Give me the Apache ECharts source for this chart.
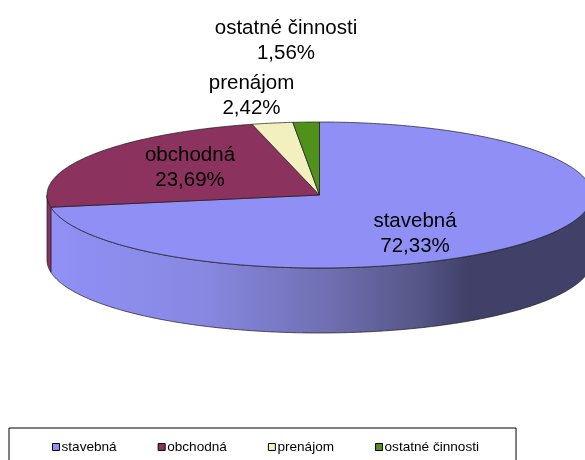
<!DOCTYPE html>
<html><head><meta charset="utf-8">
<style>html,body{margin:0;padding:0;background:#fff;overflow:hidden}#c{width:585px;height:460px}</style>
<script src="https://cdn.jsdelivr.net/npm/echarts@6/dist/echarts.min.js"></script>
</head><body><div id="c"></div>
<script>
const categories = ['stavebná', 'obchodná', 'prenájom', 'ostatné činnosti'];
const shares = [72.33, 23.69, 2.42, 1.56];
const colors = ['#8F8FF5', '#8C325F', '#F3F0C0', '#50911C'];
const labelCentres = [[415, 234], [190, 168], [251.5, 96], [286, 41]];
const pie = { cx: 319.5, cy: 195, rx: 272.5, ry: 73, depth: 65 };
const total = shares.reduce((a, b) => a + b, 0);
const starts = []; shares.reduce((acc, v, i) => (starts[i] = acc, acc + v), 0);
const toAngle = v => v / total * Math.PI * 2;
const pt = (a, dy) => [pie.cx + pie.rx * Math.sin(a), pie.cy - pie.ry * Math.cos(a) + (dy || 0)];
function arc(a0, a1, dy) {
  const n = Math.max(2, Math.ceil((a1 - a0) / 0.01)), out = [];
  for (let i = 0; i <= n; i++) out.push(pt(a0 + (a1 - a0) * i / n, dy));
  return out;
}
const wallFill = i => i !== 0 ? colors[i] : new echarts.graphic.LinearGradient(51, 0, 592, 0, [
  { offset: 0, color: '#9090F6' }, { offset: 0.28, color: '#8888E2' },
  { offset: 0.52, color: '#6E6EB0' }, { offset: 0.68, color: '#565688' },
  { offset: 0.77, color: '#404068' }, { offset: 1, color: '#404068' }], true);
const edge = { stroke: '#1a1a1a', lineWidth: 0.7 };
function renderSlice(params, api) {
  const i = api.value(0);
  const a0 = toAngle(starts[i]), a1 = a0 + toAngle(shares[i]);
  const children = [];
  const w0 = Math.max(a0, Math.PI / 2), w1 = Math.min(a1, Math.PI * 1.5);
  if (w1 > w0) {
    const top = arc(w0, w1, 0), bottom = arc(w0, w1, pie.depth).reverse();
    children.push({ type: 'polygon', shape: { points: top.concat(bottom) },
      style: Object.assign({ fill: wallFill(i) }, edge) });
  }
  children.push({ type: 'polygon', shape: { points: [[pie.cx, pie.cy]].concat(arc(a0, a1, 0)) },
    style: Object.assign({ fill: colors[i] }, edge) });
  children.push({ type: 'text', style: {
    x: labelCentres[i][0], y: labelCentres[i][1],
    text: categories[i] + '\n' + shares[i].toFixed(2).replace('.', ',') + '%',
    fill: '#000', font: '20.5px "Liberation Sans"', align: 'center', verticalAlign: 'middle', lineHeight: 25 } });
  return { type: 'group', children };
}
const chart = echarts.init(document.getElementById('c'), null, { renderer: 'canvas' });
chart.setOption({
  animation: false,
  backgroundColor: '#fff',
  legend: {
    data: categories, left: 9, top: 428, orient: 'horizontal',
    padding: [12, 37, 24, 43], itemGap: 41, itemWidth: 7, itemHeight: 7,
    icon: 'rect', borderColor: '#000', borderWidth: 1, selectedMode: false,
    itemStyle: { borderColor: '#000', borderWidth: 1 },
    textStyle: { fontFamily: 'Liberation Sans', fontSize: 13.6, color: '#000', padding: [0, 0, 0, -3] }
  },
  series: categories.map((name, i) => ({
    type: 'custom', name, coordinateSystem: 'none', silent: true, clip: false,
    itemStyle: { color: colors[i] },
    encode: { value: 0 }, data: [[i]], renderItem: renderSlice
  }))
});
</script></body></html>
